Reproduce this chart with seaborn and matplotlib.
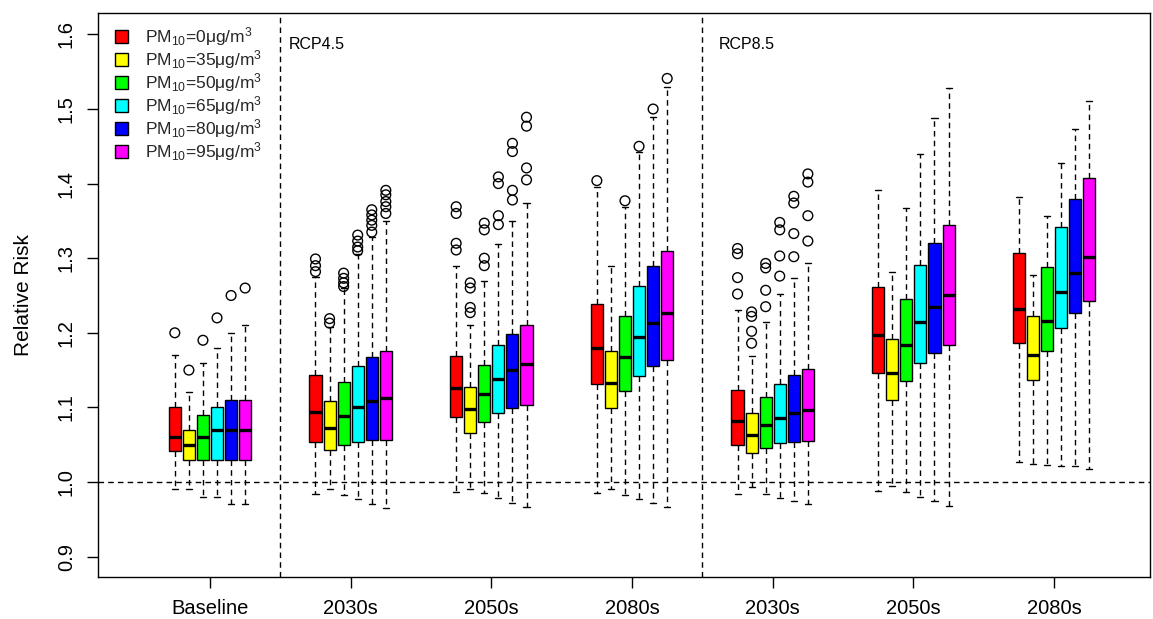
import numpy as np
import pandas as pd
import matplotlib
matplotlib.use("Agg")
import matplotlib.pyplot as plt
import seaborn as sns

# ---------------- data ----------------
periods = ["Baseline", "RCP4.5 2030s", "RCP4.5 2050s", "RCP4.5 2080s",
           "RCP8.5 2030s", "RCP8.5 2050s", "RCP8.5 2080s"]
tick_labels = ["Baseline", "2030s", "2050s", "2080s", "2030s", "2050s", "2080s"]
pm_levels = [0, 35, 50, 65, 80, 95]
colors = ["#FF0000", "#FFFF00", "#00FF00", "#00FFFF", "#0000FF", "#FF00FF"]

whisker_low = [
    [0.990, 0.990, 0.980, 0.980, 0.970, 0.970],
    [0.984, 0.990, 0.982, 0.977, 0.971, 0.965],
    [0.986, 0.991, 0.985, 0.978, 0.972, 0.966],
    [0.985, 0.991, 0.983, 0.977, 0.972, 0.966],
    [0.984, 0.993, 0.984, 0.979, 0.975, 0.970],
    [0.988, 0.995, 0.986, 0.980, 0.974, 0.968],
    [1.027, 1.024, 1.023, 1.022, 1.021, 1.018],
]
q1 = [
    [1.041, 1.030, 1.030, 1.030, 1.030, 1.030],
    [1.054, 1.043, 1.049, 1.054, 1.056, 1.056],
    [1.087, 1.066, 1.080, 1.092, 1.099, 1.103],
    [1.131, 1.099, 1.122, 1.142, 1.155, 1.164],
    [1.050, 1.039, 1.046, 1.052, 1.054, 1.055],
    [1.146, 1.110, 1.136, 1.159, 1.173, 1.184],
    [1.187, 1.137, 1.175, 1.206, 1.226, 1.242],
]
median = [
    [1.060, 1.050, 1.060, 1.070, 1.070, 1.070],
    [1.094, 1.073, 1.088, 1.101, 1.109, 1.113],
    [1.126, 1.098, 1.118, 1.138, 1.150, 1.158],
    [1.179, 1.133, 1.168, 1.195, 1.213, 1.227],
    [1.082, 1.063, 1.076, 1.086, 1.093, 1.097],
    [1.197, 1.146, 1.183, 1.215, 1.235, 1.251],
    [1.232, 1.170, 1.216, 1.255, 1.280, 1.301],
]
q3 = [
    [1.100, 1.070, 1.090, 1.100, 1.110, 1.110],
    [1.144, 1.109, 1.134, 1.155, 1.167, 1.176],
    [1.169, 1.127, 1.157, 1.183, 1.199, 1.211],
    [1.239, 1.176, 1.223, 1.263, 1.289, 1.309],
    [1.123, 1.093, 1.114, 1.132, 1.143, 1.151],
    [1.261, 1.192, 1.245, 1.291, 1.320, 1.344],
    [1.307, 1.223, 1.288, 1.342, 1.379, 1.408],
]
whisker_high = [
    [1.170, 1.120, 1.160, 1.180, 1.200, 1.210],
    [1.275, 1.208, 1.260, 1.305, 1.328, 1.350],
    [1.290, 1.211, 1.269, 1.319, 1.350, 1.374],
    [1.395, 1.290, 1.369, 1.442, 1.489, 1.529],
    [1.230, 1.169, 1.214, 1.252, 1.274, 1.293],
    [1.392, 1.282, 1.367, 1.440, 1.488, 1.528],
    [1.382, 1.278, 1.357, 1.427, 1.473, 1.511],
]
outliers = [
    [[1.20], [1.15], [1.19], [1.22], [1.25], [1.26]],
    [[1.282, 1.290, 1.299], [1.213, 1.219], [1.262, 1.267, 1.273, 1.280],
     [1.310, 1.315, 1.323, 1.331], [1.335, 1.344, 1.351, 1.358, 1.365],
     [1.360, 1.369, 1.376, 1.385, 1.391]],
    [[1.311, 1.320, 1.360, 1.369], [1.227, 1.234, 1.260, 1.267],
     [1.290, 1.300, 1.338, 1.347], [1.345, 1.357, 1.400, 1.409],
     [1.378, 1.391, 1.443, 1.454], [1.405, 1.421, 1.477, 1.489]],
    [[1.404], [], [1.377], [1.450], [1.500], [1.541]],
    [[1.252, 1.274, 1.306, 1.313], [1.186, 1.202, 1.222, 1.228],
     [1.235, 1.257, 1.287, 1.293], [1.276, 1.303, 1.338, 1.348],
     [1.302, 1.333, 1.374, 1.383], [1.323, 1.357, 1.402, 1.413]],
    [[], [], [], [], [], []],
    [[], [], [], [], [], []],
]

# ---------------- style ----------------
sns.set_theme(style="white")
plt.rcParams["font.family"] = ["Liberation Sans", "DejaVu Sans"]
plt.rcParams["mathtext.fontset"] = "custom"
plt.rcParams["mathtext.rm"] = "Liberation Sans"
plt.rcParams["mathtext.it"] = "Liberation Sans:italic"
plt.rcParams["mathtext.default"] = "regular"

hue_names = ["PM$_{10}$=%dμg/m$^3$" % v for v in pm_levels]

rows = []
for i, p in enumerate(periods):
    for j, h in enumerate(hue_names):
        for v in (whisker_low[i][j], q1[i][j], median[i][j], q3[i][j], whisker_high[i][j]):
            rows.append((p, h, v))
df = pd.DataFrame(rows, columns=["period", "pm", "rr"])

frows = []
for i, p in enumerate(periods):
    for j, h in enumerate(hue_names):
        for v in outliers[i][j]:
            frows.append((p, h, v))
fdf = pd.DataFrame(frows, columns=["period", "pm", "rr"])

fig = plt.figure(figsize=(11.53, 6.19), dpi=100)
ax = fig.add_axes([0.0850, 0.0679, 0.9124, 0.9111])

dash = (0, (4, 3))
sns.boxplot(data=df, x="period", y="rr", hue="pm", order=periods,
            hue_order=hue_names, palette=colors, saturation=1,
            width=0.6, gap=0.14, whis=(0, 100), showfliers=False,
            linecolor="black", linewidth=1.0,
            medianprops=dict(color="black", linewidth=2.4),
            whiskerprops=dict(linestyle=dash, linewidth=1.0),
            capprops=dict(linewidth=1.0),
            ax=ax)
handles, labels = ax.get_legend_handles_labels()
if ax.get_legend() is not None:
    ax.get_legend().remove()

strip_order = ["pad_lo"] + hue_names + ["pad_hi"]
strip_pal = {k: "white" for k in strip_order}
sns.stripplot(data=fdf, x="period", y="rr", hue="pm", order=periods,
              hue_order=strip_order, palette=strip_pal, dodge=True,
              jitter=False, size=7, linewidth=1, edgecolor="black",
              legend=False, ax=ax)
for coll in ax.collections:
    coll.set_facecolor("none")
    coll.set_edgecolor("black")
    coll.set_linewidth(1.0)

ax.axhline(1.0, color="black", lw=1, ls=dash, zorder=0.5)
ax.axvline(0.5, color="black", lw=1, ls=dash, zorder=0.5)
ax.axvline(3.5, color="black", lw=1, ls=dash, zorder=0.5)

ax.set_xlim(-0.796, 6.682)
ax.set_ylim(0.8727, 1.6287)
ax.set_xticks(range(len(periods)))
ax.set_xticklabels(tick_labels)
yt = [0.9, 1.0, 1.1, 1.2, 1.3, 1.4, 1.5, 1.6]
ax.set_yticks(yt)
ax.set_yticklabels(["%.1f" % v for v in yt], rotation=90, va="center")
ax.tick_params(axis="both", which="major", direction="out", length=8,
               width=1, color="black", labelcolor="black",
               bottom=True, left=True, pad=8)
ax.tick_params(axis="x", labelsize=14.5)
ax.tick_params(axis="y", labelsize=14.5)
ax.set_xlabel("")
ax.set_ylabel("Relative Risk", fontsize=15, color="black")
ax.yaxis.set_label_coords(-0.062, 0.5)
for s in ax.spines.values():
    s.set_color("black")
    s.set_linewidth(1.0)

ax.text(0.562, 1.586, "RCP4.5", fontsize=11.5, ha="left", va="center", color="black")
ax.text(3.618, 1.586, "RCP8.5", fontsize=11.5, ha="left", va="center", color="black")

ax.legend(handles, labels, loc="upper left", bbox_to_anchor=(0.016, 0.978),
          frameon=False, fontsize=12.5, handlelength=0.75, handleheight=0.75,
          handletextpad=1.0, labelspacing=0.0, borderpad=0, borderaxespad=0)

fig.savefig("out.png", dpi=100)
